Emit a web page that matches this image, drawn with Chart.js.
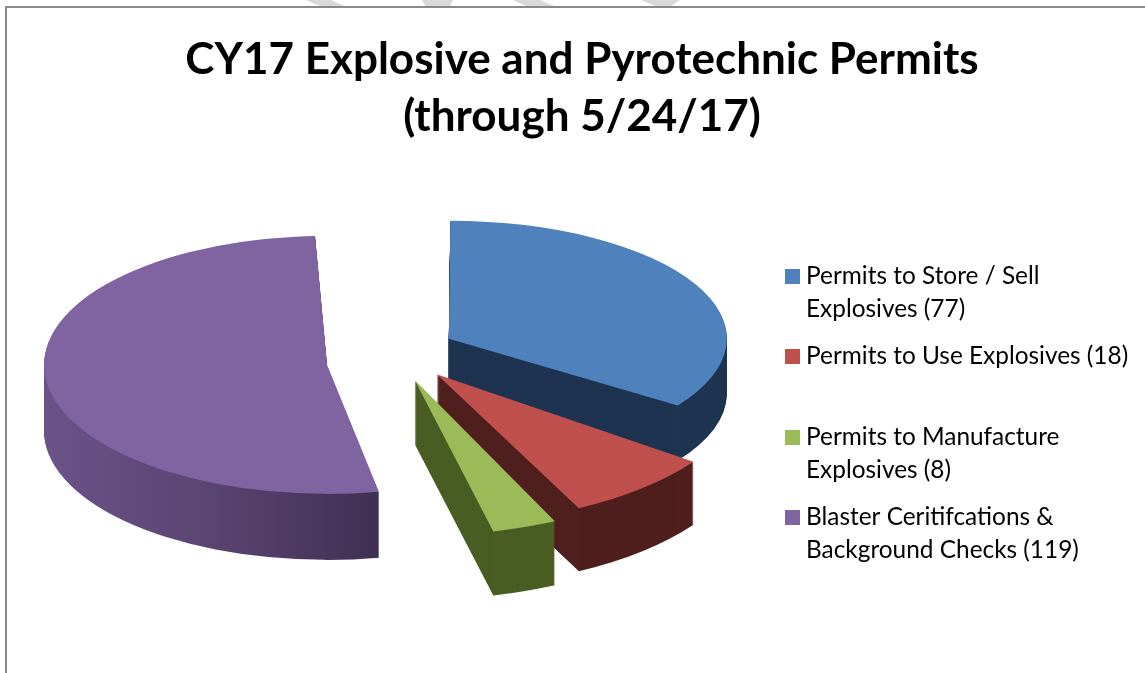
<!DOCTYPE html>
<html>
<head>
<meta charset="utf-8">
<style>html,body{margin:0;padding:0;background:#fff;overflow:hidden}canvas{display:block}</style>
<script src="https://cdn.jsdelivr.net/npm/chart.js@4"></script>
</head>
<body>
<canvas id="c" width="1145" height="673"></canvas>
<script>
const titleLines = ["CY17 Explosive and Pyrotechnic Permits", "(through 5/24/17)"];
const categories = ["Permits to Store / Sell Explosives (77)", "Permits to Use Explosives (18)", "Permits to Manufacture Explosives (8)", "Blaster Ceritifcations & Background Checks (119)"];
const legendLines = [["Permits to Store / Sell", "Explosives (77)"], ["Permits to Use Explosives (18)"], ["Permits to Manufacture", "Explosives (8)"], ["Blaster Ceritifcations &", "Background Checks (119)"]];
const values = [77, 18, 8, 119];
const topColors = ["#4f81bd", "#c0504d", "#9bbb59", "#8064a2"];
const sideColors = ["#1e3451", "#4f1f1d", "#4a5d23", null];

// Presentation of the tilted, exploded pie
const explode = [236, 222, 152, 436];
const faceRx = [278, 316, 330, 283];
const faceRy = [118, 150, 156, 129];
const faceLift = [-3, 3, 11, 9];
const faceDepth = [55, 63, 64, 66];
const pieCentre = {x: 402, y: 352};
const legendSwatchY = [269, 349, 430, 510];
const legendBaseY = [[284, 317], [364], [445, 478], [525, 558]];

function sliceTransform(ctx, el, i) {
  const off = explode[i] / 4;
  const fix = 1 - Math.sin(Math.min(Math.PI, el.circumference));
  const radOff = off * fix;
  const r = el.outerRadius + radOff;
  ctx.translate(pieCentre.x, pieCentre.y + faceLift[i]);
  ctx.scale(faceRx[i] / r, faceRy[i] / r);
  ctx.translate(-el.x, -el.y);
  return {off, r, trim: radOff / (2 * Math.PI * r)};
}

const pie3d = {
  id: "pie3d",
  beforeDraw(chart) {
    const ctx = chart.ctx;
    ctx.save();
    ctx.fillStyle = "#fff";
    ctx.fillRect(0, 0, chart.width, chart.height);
    ctx.fillStyle = "#d9d9d9";
    [[306, 331, 344, 320], [422, 453, 450, 425], [513, 540, 554, 526], [641, 680, 671, 655]].forEach(s => {
      ctx.beginPath();
      ctx.moveTo(s[0], 0); ctx.lineTo(s[1], 0); ctx.lineTo(s[2], 6); ctx.lineTo(s[3], 6);
      ctx.closePath(); ctx.fill();
    });
    ctx.fillStyle = "#8a8a8a";
    ctx.fillRect(5, 6, chart.width - 5, 2);
    ctx.fillRect(5, 6, 2, chart.height - 6);
    ctx.restore();
  },
  beforeDatasetDraw(chart, args) {
    const ctx = chart.ctx;
    args.meta.data.forEach((el, i) => {
      for (let j = faceDepth[i]; j >= 1; j--) {
        ctx.save();
        ctx.translate(0, j);
        const {off, r, trim} = sliceTransform(ctx, el, i);
        const mid = (el.startAngle + el.endAngle) / 2;
        const px = el.x + Math.cos(mid) * off, py = el.y + Math.sin(mid) * off;
        let fill = sideColors[i];
        if (!fill) {
          const k = r / faceRx[i];
          const toLocal = xs => el.x + (xs - pieCentre.x) * k;
          fill = ctx.createLinearGradient(toLocal(42), 0, toLocal(381), 0);
          fill.addColorStop(0, "#6b5389");
          fill.addColorStop(0.5, "#5a4470");
          fill.addColorStop(1, "#3f2f52");
        }
        ctx.fillStyle = fill;
        ctx.beginPath();
        ctx.moveTo(px, py);
        ctx.arc(px, py, r, el.startAngle + trim, el.endAngle - trim);
        ctx.closePath();
        ctx.fill();
        ctx.restore();
      }
      ctx.save();
      sliceTransform(ctx, el, i);
      el.draw(ctx);
      ctx.restore();
    });
    return false;
  },
  afterDraw(chart) {
    const ctx = chart.ctx;
    ctx.save();
    ctx.font = "24.4px Lato";
    ctx.textBaseline = "alphabetic";
    ctx.textAlign = "left";
    legendLines.forEach((lines, i) => {
      ctx.fillStyle = topColors[i];
      ctx.fillRect(785, legendSwatchY[i], 15, 15);
      ctx.fillStyle = "#000";
      lines.forEach((t, j) => ctx.fillText(t, 806, legendBaseY[i][j]));
    });
    ctx.restore();
  }
};

new Chart(document.getElementById("c"), {
  type: "pie",
  data: {
    labels: categories,
    datasets: [{
      data: values,
      backgroundColor: topColors,
      borderWidth: 0,
      offset: explode
    }]
  },
  plugins: [pie3d],
  options: {
    responsive: false,
    animation: false,
    radius: 300,
    layout: {padding: {left: 19, top: 32}},
    plugins: {
      legend: {display: false},
      tooltip: {enabled: false},
      title: {
        display: true,
        text: titleLines,
        color: "#000",
        font: {family: "Lato", size: 44, weight: "bold", lineHeight: 1.28},
        padding: {top: 0, bottom: 10}
      }
    }
  }
});
</script>
</body>
</html>
